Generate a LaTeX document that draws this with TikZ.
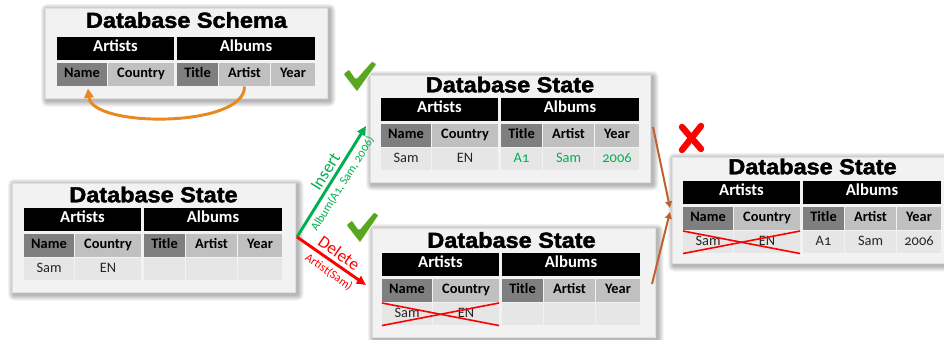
\documentclass[tikz,border=0pt]{standalone}
\usepackage{fontspec}
\usetikzlibrary{arrows.meta}
\newfontfamily\cf[Numbers=OldStyle]{Carlito}
\newfontfamily\ttlf[FakeStretch=1.08,FakeBold=2]{Liberation Sans}
\definecolor{keygray}{HTML}{7F7F7F}
\definecolor{colgray}{HTML}{C0C0C0}
\definecolor{datgray}{HTML}{E6E6E6}
\definecolor{panelgray}{HTML}{F2F2F2}
\definecolor{okgreen}{HTML}{00B050}
\definecolor{chkgreen}{HTML}{5AA61F}
\definecolor{orng}{HTML}{E8891D}
\definecolor{brwn}{HTML}{C0622E}
\definecolor{xred}{HTML}{FF0000}

\tikzset{
  cell/.style={anchor=north west, inner sep=0pt, draw=none,
    text height=0.68em, text depth=0.2em},
  cw/.style={minimum width={(#1-1.5)*0.75pt}},
  hdr/.style={cell, fill=black, text=white, font=\cf\bfseries\fontsize{12.5}{14}\selectfont, minimum height={23*0.75pt}},
  keyc/.style={cell, fill=keygray, text=black, font=\cf\bfseries\fontsize{10.8}{12}\selectfont, minimum height={23*0.75pt}},
  colc/.style={cell, fill=colgray, text=black, font=\cf\bfseries\fontsize{10.8}{12}\selectfont, minimum height={23*0.75pt}},
  datc/.style={cell, fill=datgray, text=black!85, font=\cf\fontsize{10.8}{12}\selectfont, minimum height={22*0.75pt}},
  panel/.style={anchor=north west, fill=panelgray, draw=black!12, line width=0.5pt, inner sep=0pt},
  ttl/.style={font=\ttlf\bfseries\fontsize{16.3}{18}\selectfont, inner sep=0pt},
  chk/.style={fill=chkgreen, draw=white, line width=0.6pt, rounded corners=1pt},
  lbl/.style={sloped, inner sep=0.5pt},
}

% panel with soft shadow: name, x1, y1, x2, y2
\newcommand\dbpanel[5]{%
  \foreach \d in {6,5,4,3,2,1} {\fill[black,opacity=0.05,rounded corners={\d*0.75pt}]
    (#2-\d+2,#3-\d+2) rectangle (#4+\d+2.5,#5+\d+2.5);}
  \node[panel, minimum width={(#4-#2)*0.75pt}, minimum height={(#5-#3)*0.75pt}] (#1) at (#2,#3) {};}

% table head: prefix, tx, ty
\newcommand\dbhead[3]{%
  \node[hdr, cw=118] (#1-art) at (#2,#3) {Artists};
  \node[hdr, cw=139] (#1-alb) at (#2+120,#3) {Albums};
  \node[keyc, cw=51] (#1-name) at (#2,#3+26) {Name};
  \node[colc, cw=67] (#1-country) at (#2+51,#3+26) {Country};
  \node[keyc, cw=42] (#1-title) at (#2+120,#3+26) {Title};
  \node[colc, cw=52] (#1-artist) at (#2+162,#3+26) {Artist};
  \node[colc, cw=45] (#1-year) at (#2+214,#3+26) {Year};}

% data row: prefix, tx, ty, five cells
\newcommand\dbrow[8]{%
  \node[datc, cw=51] (#1-d1) at (#2,#3+50) {#4};
  \node[datc, cw=67] (#1-d2) at (#2+51,#3+50) {#5};
  \node[datc, cw=42] (#1-d3) at (#2+120,#3+50) {#6};
  \node[datc, cw=52] (#1-d4) at (#2+162,#3+50) {#7};
  \node[datc, cw=45] (#1-d5) at (#2+214,#3+50) {#8};}

\begin{document}
\begin{tikzpicture}[x=0.75pt, y=-0.75pt]
\useasboundingbox (0,0) rectangle (944,339);
\fill[white] (0,0) rectangle (944,339);

% ---------- Schema ----------
\dbpanel{schemaP}{45}{8}{327}{98}
\node[ttl] (schemaT) at (186.5,20) {Database Schema};
\dbhead{s}{57}{37}
\draw[orng, line width=2.2pt, -{Triangle[length=7pt,width=7pt]}]
  (s-artist.south) .. controls (245,128) and (92,128) .. ([shift={(6,2)}]s-name.south);

% ---------- left state ----------
\dbpanel{leftP}{12}{183}{295}{292}
\node[ttl] (leftT) at (153.5,194.5) {Database State};
\dbhead{l}{24}{208}
\dbrow{l}{24}{208}{Sam}{EN}{}{}{}

% ---------- top middle state ----------
\dbpanel{topP}{370}{75}{650}{182}
\node[ttl] (topT) at (510,84.5) {Database State};
\dbhead{t}{381}{98}
\dbrow{t}{381}{98}{Sam}{EN}{\textcolor{okgreen}{A1}}{\textcolor{okgreen}{Sam}}{\textcolor{okgreen}{2006}}

% ---------- bottom middle state ----------
\dbpanel{botP}{372}{228}{655}{337}
\node[ttl] (botT) at (511.5,240) {Database State};
\dbhead{b}{382}{253}
\dbrow{b}{382}{253}{Sam}{EN}{}{}{}
\draw[xred, line width=1.2pt] (b-d1.north west) -- (b-d2.south east);
\draw[xred, line width=1.2pt] (b-d1.south west) -- (b-d2.north east);

% ---------- right state ----------
\dbpanel{rightP}{672}{157}{955}{263}
\node[ttl] (rightT) at (812.5,166.5) {Database State};
\dbhead{r}{683}{181}
\dbrow{r}{683}{181}{Sam}{EN}{A1}{Sam}{2006}
\draw[xred, line width=1.2pt] (r-d1.north west) -- (r-d2.south east);
\draw[xred, line width=1.2pt] (r-d1.south west) -- (r-d2.north east);

% ---------- transitions ----------
\coordinate (fork) at (297,237);
\coordinate (insEnd) at (366,126);
\coordinate (delEnd) at (366,285);
\draw[okgreen, line width=2.2pt, -{Triangle[length=7pt,width=6.5pt]}] (fork) --
  node[lbl, pos=0.54, above=2pt, text=okgreen, font=\cf\fontsize{13}{14}\selectfont] (insL) {Insert}
  node[lbl, pos=0.53, below=2.5pt, text=okgreen, font=\cf\fontsize{9}{10}\selectfont] (insA) {Album(A1, Sam, 2006)}
  (insEnd);
\draw[xred, line width=2.2pt, -{Triangle[length=7pt,width=6.5pt]}] (fork) --
  node[lbl, pos=0.52, above=2pt, text=xred, font=\cf\fontsize{13}{14}\selectfont] (delL) {Delete}
  node[lbl, pos=0.55, below=2.5pt, text=xred, font=\cf\fontsize{9}{10}\selectfont] (delA) {Artist(Sam)}
  (delEnd);

% merge arrows
\coordinate (m1s) at (653,127);
\coordinate (m1e) at (670,208);
\coordinate (m2s) at (652,284);
\coordinate (m2e) at (670,212);
\draw[brwn, line width=1.5pt, -{Triangle[length=5pt,width=5pt]}] (m1s) -- (m1e);
\draw[brwn, line width=1.5pt, -{Triangle[length=5pt,width=5pt]}] (m2s) -- (m2e);

% check marks
\fill[chk] (343,74) -- (349,69) -- (356,79) -- (372,61) -- (377,64) -- (357,92) -- cycle;
\fill[chk] (346,225) -- (352,220) -- (359,230) -- (374,212) -- (379,215) -- (360,243) -- cycle;

% red X
\draw[xred, line width=4.8pt, line cap=round] (682,127) -- (701,149);
\draw[xred, line width=4.8pt, line cap=round] (701,126) -- (682,150);
\end{tikzpicture}
\end{document}
